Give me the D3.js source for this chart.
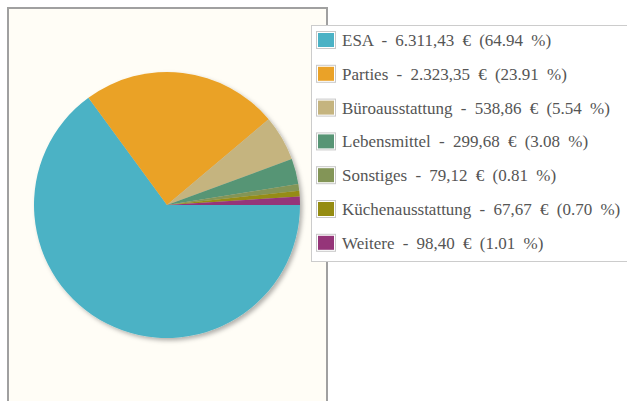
<!DOCTYPE html>
<html>
<head>
<meta charset="utf-8">
<script src="https://cdn.jsdelivr.net/npm/d3@7"></script>
<style>
  body { margin: 0; background: #fff; }
  svg { display: block; }
</style>
</head>
<body>
<div id="chart"></div>
<script>
const categories = ['ESA', 'Parties', 'Büroausstattung', 'Lebensmittel', 'Sonstiges', 'Küchenausstattung', 'Weitere'];
const amounts = [6311.43, 2323.35, 538.86, 299.68, 79.12, 67.67, 98.40];
const sliceColors = ['#4bb2c5', '#eaa228', '#c5b47f', '#579575', '#839557', '#958c12', '#953579'];

const width = 627, height = 401;
const plot = { x: 8, y: 8, w: 319, h: 400 };
const center = { x: 167, y: 205 };
const radius = 133;

const de = d3.formatLocale({ decimal: ',', thousands: '.', grouping: [3], currency: ['', ' €'] });
const money = de.format(',.2f');
const total = d3.sum(amounts);

const svg = d3.select('#chart').append('svg')
  .attr('width', width)
  .attr('height', height);

const defs = svg.append('defs');
defs.append('filter')
  .attr('id', 'shadow')
  .attr('x', '-20%').attr('y', '-20%').attr('width', '140%').attr('height', '140%')
  .append('feDropShadow')
  .attr('dx', 2.5).attr('dy', 2.5)
  .attr('stdDeviation', 2)
  .attr('flood-color', '#000')
  .attr('flood-opacity', 0.3);

// plot area
svg.append('rect')
  .attr('x', plot.x).attr('y', plot.y)
  .attr('width', plot.w).attr('height', plot.h)
  .attr('fill', '#fffdf6')
  .attr('stroke', '#a0a0a0')
  .attr('stroke-width', 2);

const pie = d3.pie()
  .sort(null)
  .startAngle(Math.PI / 2)
  .endAngle(Math.PI / 2 + 2 * Math.PI);

const arc = d3.arc().innerRadius(0).outerRadius(radius);

const g = svg.append('g')
  .attr('transform', `translate(${center.x},${center.y})`)
  .attr('filter', 'url(#shadow)');

g.selectAll('path')
  .data(pie(amounts))
  .enter()
  .append('path')
  .attr('d', arc)
  .attr('fill', (d, i) => sliceColors[i]);

// legend
const legend = { x: 311, y: 25, w: 330, h: 236, rowH: 33.8 };
svg.append('rect')
  .attr('x', legend.x + 0.5).attr('y', legend.y + 0.5)
  .attr('width', legend.w).attr('height', legend.h)
  .attr('fill', '#ffffff')
  .attr('stroke', '#cccccc')
  .attr('stroke-width', 1);

const rows = svg.append('g').selectAll('g')
  .data(categories)
  .enter()
  .append('g')
  .attr('transform', (d, i) => `translate(${legend.x + 5},${legend.y + 15 + i * legend.rowH})`);

rows.append('rect')
  .attr('x', 0.5).attr('y', -8.5)
  .attr('width', 19).attr('height', 17)
  .attr('fill', '#fff')
  .attr('stroke', '#c8c8c8');

rows.append('rect')
  .attr('x', 2).attr('y', -7)
  .attr('width', 16).attr('height', 14)
  .attr('fill', (d, i) => sliceColors[i]);

rows.append('text')
  .attr('x', 26)
  .attr('y', 0)
  .attr('dy', '0.35em')
  .style('font-family', '"Liberation Serif", "DejaVu Serif", serif')
  .style('font-size', '17px')
  .style('word-spacing', '4px')
  .attr('fill', '#555')
  .text((d, i) => `${d} - ${money(amounts[i])} € (${(amounts[i] / total * 100).toFixed(2)} %)`);
</script>
</body>
</html>
